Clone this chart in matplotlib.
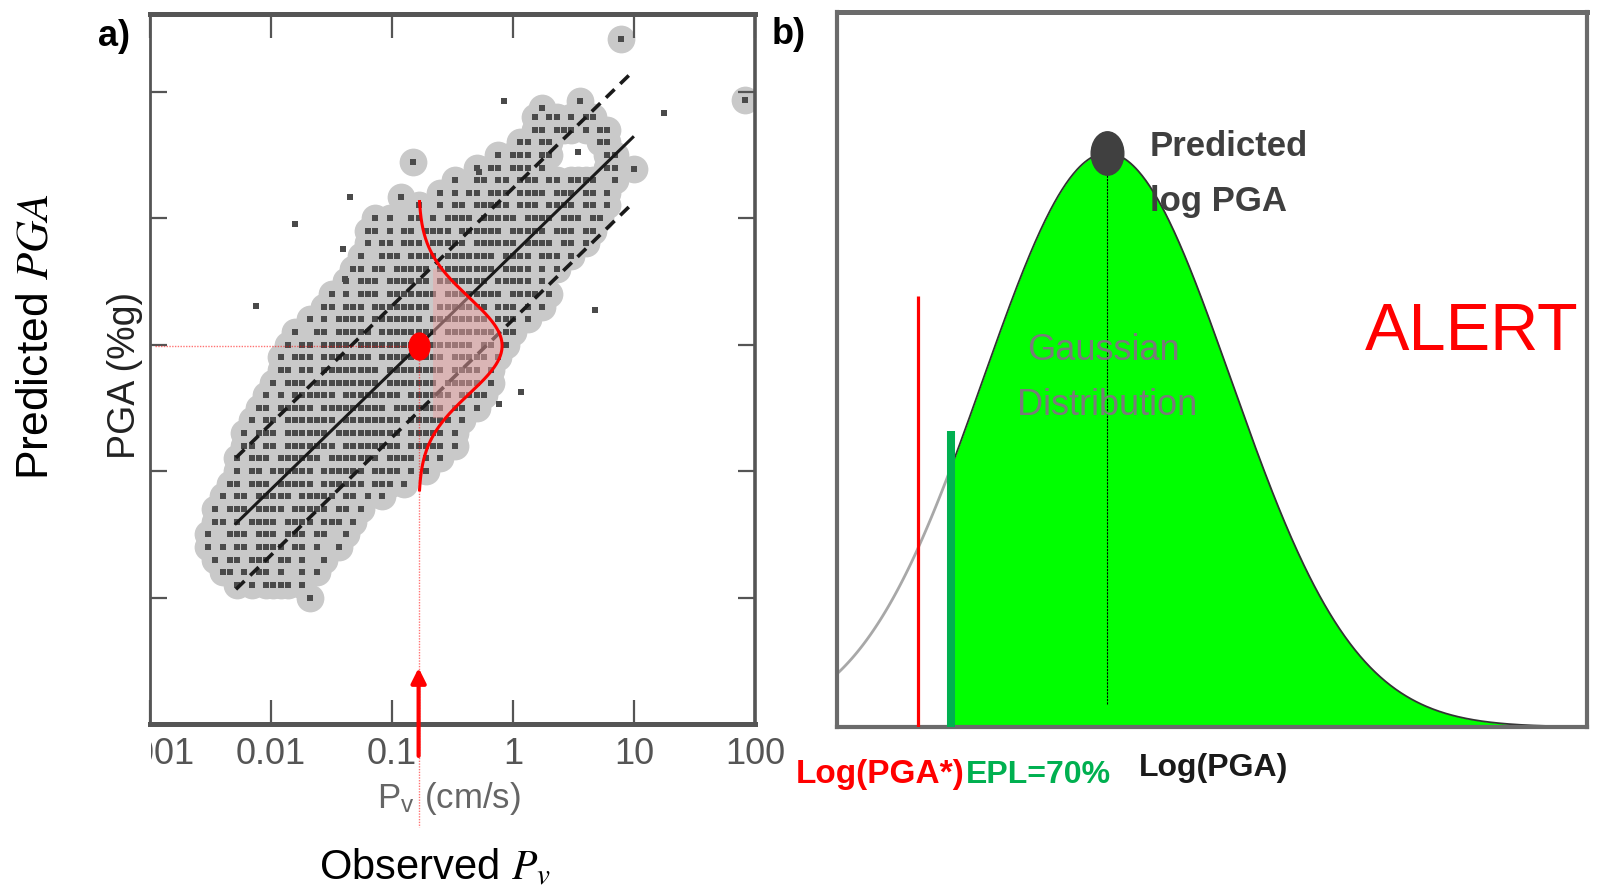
import numpy as np
import matplotlib
matplotlib.use("Agg")
import matplotlib.pyplot as plt
from matplotlib.markers import MarkerStyle
from matplotlib.transforms import Affine2D, Bbox

W, H = 1600, 896

# ---- panel a: observed Pv vs predicted PGA (log10 values) ----
# each row of points shares one PGA level; cells are 0.06 decade apart in Pv,
# "o" marks a point, the row begins at row_log_pv0
CELL = 0.06
row_log_pga = [1.8, 1.7, 1.6, 1.5, 1.4, 1.3, 1.2, 1.1, 1.0, 0.9, 0.8, 0.7, 0.6,
               0.5, 0.4, 0.3, 0.2, 0.1, 0.0, -0.1, -0.2, -0.3, -0.4, -0.5,
               -0.6, -0.7, -0.8, -0.9, -1.0, -1.1, -1.2, -1.3, -1.4, -1.5,
               -1.6, -1.7, -1.8, -1.9, -2.0]
row_log_pv0 = [0.18, 0.18, 0.06, -0.12, -0.30, -0.48, -0.60, -0.78, -1.14,
               -1.20, -1.20, -1.26, -1.32, -1.38, -1.50, -1.56, -1.68, -1.80,
               -1.86, -1.92, -1.92, -1.98, -2.04, -2.10, -2.16, -2.22, -2.22,
               -2.28, -2.28, -2.34, -2.40, -2.46, -2.46, -2.52, -2.52, -2.46,
               -2.40, -2.28, -1.68]
row_cells = [
    "o oo o oo",
    "oo ooo o oo",
    "oo oo      oo",
    "o ooo oo       oo",
    "o oo ooo o        oo",
    "o  oo oo ooo oo oooo  o",
    "o o oo ooo oooo ooo oo o",
    "o  o oo ooooo ooo oooo oo o",
    "o o  oo o oooo ooooo oooo ooo oo",
    "oo o oo oooo oooooo ooooo ooo oo",
    "o oo ooo ooooo oooooo oooo oo o",
    "o  ooo oooo ooooooo oooo ooo o",
    "oo oo ooooo oooooooo oooo o o",
    "o ooo oooooo ooooooo ooooo o",
    "o o ooo ooooooo oooooooo oooo o",
    "oo ooo oooooooo ooooooo ooo o o",
    "o o oooo ooooooo oooooooo ooo o",
    "o  oo ooooo oooooooo ooooooo oo",
    "o oo oooo ooooooooo oooooo oo o",
    "o ooo ooooooo ooooooooo ooooo o",
    "oo oo oooooooo oooooooo oooo o",
    "o ooo ooooooooo ooooooo ooooo o",
    "o o oooooo oooooooo oooooo oooo",
    "oo ooooo ooooooooo ooooooo oo o",
    "o oo ooooooo oooooooo oooooo o",
    "o ooo oooooo ooooooooo ooooo o",
    "oo oo ooooooo oooooooo ooooo o",
    "o ooo oooooo ooooooo oooo o o",
    "o oo oooooo oooooo oooo o o",
    "oo ooo ooooo oooooo ooo o",
    "o oo ooooo ooooo oo o o",
    "o ooo oooo ooooo oo o",
    "oo o oooo oooo ooo o",
    "o  ooo ooo ooo oo  o",
    "o o oo oooo oo o  o",
    "o oo ooo oo o  o",
    "oo o oo o  o o",
    "o o oooo o",
    "o",
]

# scattered points away from the rows (with halo / bare)
halo_log_pv = [0.893, 1.918, -0.828, -0.926, 1.0, -0.279, 0.557, 0.238]
halo_log_pga = [2.417, 1.937, 1.441, 1.165, 1.386, 1.362, 1.929, 1.874]
bare_log_pv = [-0.074, 1.246, -1.803, -2.123, -1.344, -1.402, -1.385, 0.680,
               0.066, -0.115, 0.541]
bare_log_pga = [1.929, 1.835, 0.953, 0.307, 1.165, 0.756, 0.520, 0.276,
                -0.378, -0.472, 1.52]

# regression log PGA = a + b log Pv, with +-1 sigma band
fit_a, fit_b, fit_sigma = 0.717, 0.931, 0.52
fit_log_pv = [-2.29, 0.99]

# one observation and the spread of its prediction
obs_log_pv = -0.78
pdf_sigma = 0.38      # decades of PGA
pdf_peak = 0.69       # drawn height of the curve, decades of Pv
shade_log_pga = [-0.58, 0.61]
shade_offset = 0.115

pv_ticks = [0.001, 0.01, 0.1, 1, 10, 100]
pv_labels = ["0.001", "0.01", "0.1", "1", "10", "100"]
pga_ticks = [0.01, 0.1, 1, 10, 100]

# ---- panel b: gaussian of log PGA ----
pga_mu, pga_sigma = 3.6, 1.65
pga_star, star_top = 1.08, 0.75
epl_edge, epl_top = 1.52, 0.516

plt.rcParams["font.family"] = ["Liberation Sans", "DejaVu Sans"]
plt.rcParams["mathtext.fontset"] = "stix"


def fxy(x, y):
    """pixel position measured from the top-left -> figure fraction"""
    return x / W, 1 - y / H


fig = plt.figure(figsize=(W / 100, H / 100), dpi=100)
fig.patch.set_facecolor("white")

# ------------------------------------------------------------------ panel a
ax = fig.add_axes([150 / W, 1 - 724 / H, 605 / W, 710 / H])
ax.set_xscale("log")
ax.set_yscale("log")
ax.set_xlim(10 ** (-3 + 5 / 122), 100)
ax.set_ylim(1e-3, 10 ** 2.614)

pts_pv, pts_pga = [], []
for pga, pv0, cells in zip(row_log_pga, row_log_pv0, row_cells):
    for i, ch in enumerate(cells):
        if ch == "o":
            pts_pv.append(pv0 + CELL * i)
            pts_pga.append(pga)
pts_pv = np.array(pts_pv + halo_log_pv)
pts_pga = np.array(pts_pga + halo_log_pga)

ax.scatter(10 ** pts_pv, 10 ** pts_pga, s=400, marker="o", color="#c9c9c9",
           linewidths=0, zorder=1)
sq_pv = np.concatenate([pts_pv, bare_log_pv])
sq_pga = np.concatenate([pts_pga, bare_log_pga])
ax.scatter(10 ** sq_pv, 10 ** sq_pga, s=16, marker="s", color="#4a4a4a",
           linewidths=0, zorder=2)

lx = np.array(fit_log_pv)
ly = fit_a + fit_b * lx
ax.plot(10 ** lx, 10 ** ly, color="#1a1a1a", lw=2.2, zorder=3)
for k in (-1, 1):
    ax.plot(10 ** lx, 10 ** (ly + k * fit_sigma), color="#1a1a1a", lw=2.6,
            dashes=(3.3, 2.2), zorder=3)

# predicted PGA for the observation and its spread
pred = fit_a + fit_b * obs_log_pv
t = np.linspace(-3 * pdf_sigma, 3 * pdf_sigma, 300)
bump = obs_log_pv + pdf_peak * np.exp(-0.5 * (t / pdf_sigma) ** 2)
inside = (pred + t >= shade_log_pga[0]) & (pred + t <= shade_log_pga[1])
ax.fill_betweenx(10 ** (pred + t[inside]), 10 ** (obs_log_pv + shade_offset),
                 10 ** bump[inside],
                 where=bump[inside] > obs_log_pv + shade_offset,
                 color="#eba3a3", alpha=0.5, lw=0, zorder=4)
ax.plot(10 ** bump, 10 ** (pred + t), color="red", lw=2.2, zorder=5)

ax.plot([10 ** -2.959, 10 ** obs_log_pv], [10 ** pred] * 2, color="red",
        lw=1.0, alpha=0.55, ls=(0, (1, 1)), zorder=5)
ax.plot([10 ** obs_log_pv] * 2, [10 ** pred, 1e-3], color="red", lw=1.0,
        alpha=0.55, ls=(0, (1, 1)), zorder=5)
ax.plot([10 ** obs_log_pv] * 2, [0, -0.145], color="red", lw=1.0, alpha=0.55,
        ls=(0, (1, 1)), transform=ax.get_xaxis_transform(), clip_on=False)
dot = MarkerStyle("o", transform=Affine2D().scale(1, 1.29))
ax.plot(10 ** obs_log_pv, 10 ** pred, marker=dot, ms=15, color="red",
        ls="none", zorder=6)
ax.annotate("", xy=(10 ** obs_log_pv, 0.079), xytext=(10 ** obs_log_pv, -0.045),
            xycoords=ax.get_xaxis_transform(), annotation_clip=False,
            arrowprops=dict(arrowstyle="-|>", color="red", lw=3,
                            mutation_scale=22, shrinkA=0, shrinkB=0))

ax.set_xticks(pv_ticks)
ax.set_xticklabels(pv_labels)
ax.set_yticks(pga_ticks)
ax.set_yticklabels([])
ax.minorticks_off()
ax.tick_params(direction="in", top=True, right=True, color="#555555",
               width=1.6, labelcolor="#555555")
ax.tick_params(axis="x", length=17, labelsize=26, pad=9)
ax.tick_params(axis="y", length=12)
for side, lw in (("top", 3.6), ("bottom", 3.6), ("left", 2.0), ("right", 2.6)):
    ax.spines[side].set_color("#555555")
    ax.spines[side].set_linewidth(lw)

fig.canvas.draw()
first = ax.get_xticklabels()[0]
first.set_clip_box(Bbox.from_extents(151, 0, W, H))
first.set_clip_on(True)

fig.text(*fxy(114, 36), "a)", fontsize=26, fontweight="bold", ha="center",
         va="center")
fig.text(*fxy(36, 337), "Predicted $PGA$", fontsize=32, rotation=90,
         ha="center", va="center")
fig.text(*fxy(125, 375), "PGA (%g)", fontsize=27, rotation=90, ha="center",
         va="center", color="#222222")
fig.text(*fxy(449, 798), r"P$_\mathregular{v}$ (cm/s)", fontsize=25,
         ha="center", va="center", color="#666666")
fig.text(*fxy(435, 868), "Observed $P_v$", fontsize=30, ha="center",
         va="center")

# ------------------------------------------------------------------ panel b
axb = fig.add_axes([837 / W, 1 - 727 / H, 750 / W, 715 / H])
axb.set_xlim(0, 10)
axb.set_ylim(0, 1.2456)
axb.set_xticks([])
axb.set_yticks([])
for side in axb.spines:
    axb.spines[side].set_color("#6b6b6b")
    axb.spines[side].set_linewidth(3.0)
axb.spines["top"].set_linewidth(3.6)


def gauss(x):
    return np.exp(-0.5 * ((x - pga_mu) / pga_sigma) ** 2)


x_left = np.linspace(0, epl_edge, 100)
x_right = np.linspace(epl_edge, 10, 500)
axb.fill_between(x_right, gauss(x_right), color="#00ff00", lw=0, zorder=1)
axb.plot(x_left, gauss(x_left), color="#a8a8a8", lw=2.0, zorder=2)
axb.plot(x_right, gauss(x_right), color="#333333", lw=1.3, zorder=2)
axb.vlines(pga_star, 0, star_top, color="red", lw=2.3, zorder=3)
axb.vlines(epl_edge, 0, epl_top, color="#00b050", lw=5.8, zorder=3)
axb.vlines(pga_mu, 0.04, 1.0, color="black", lw=0.8, linestyles=(0, (2, 1)),
           zorder=3)
peak = MarkerStyle("o", transform=Affine2D().scale(1, 1.33))
axb.plot(pga_mu, 1.0, marker=peak, ms=23.5, color="#404040", ls="none",
         zorder=4)

fig.text(*fxy(789, 34), "b)", fontsize=26, fontweight="bold", ha="center",
         va="center")
fig.text(*fxy(1150, 146), "Predicted", fontsize=25, fontweight="bold",
         color="#3f3f3f", ha="left", va="center")
fig.text(*fxy(1150, 201), "log PGA", fontsize=25, fontweight="bold",
         color="#3f3f3f", ha="left", va="center")
fig.text(*fxy(1103, 350), "Gaussian", fontsize=26, color="#7a7a7a",
         ha="center", va="center")
fig.text(*fxy(1107, 405), "Distribution", fontsize=26, color="#7a7a7a",
         ha="center", va="center")
fig.text(*fxy(1472, 333), "ALERT", fontsize=48, color="red", ha="center",
         va="center")
fig.text(*fxy(964, 775), "Log(PGA*)", fontsize=24, fontweight="bold",
         color="red", ha="right", va="center")
fig.text(*fxy(966, 775), "EPL=70%", fontsize=23, fontweight="bold",
         color="#00b050", ha="left", va="center")
fig.text(*fxy(1139, 768), "Log(PGA)", fontsize=23, fontweight="bold",
         color="#1a1a1a", ha="left", va="center")

fig.savefig("out.png", dpi=100, facecolor="white")
